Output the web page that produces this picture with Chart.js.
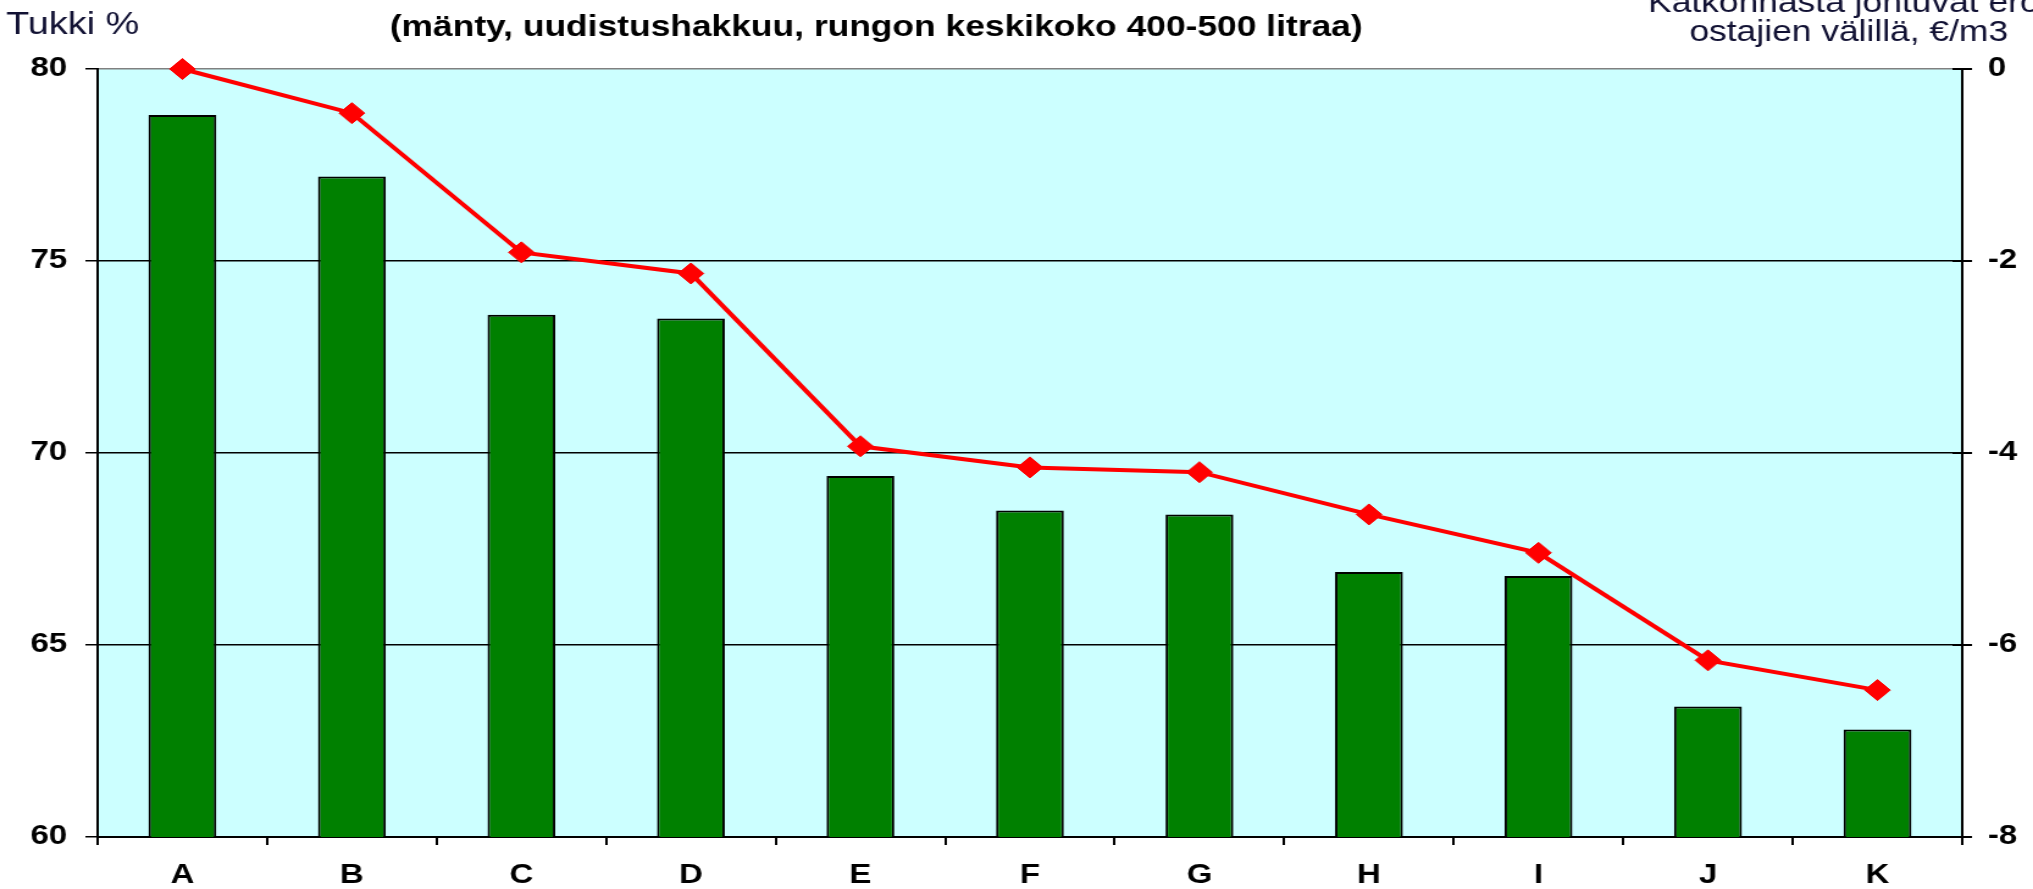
<!DOCTYPE html>
<html>
<head>
<meta charset="utf-8">
<script src="https://cdn.jsdelivr.net/npm/chart.js@4/dist/chart.umd.min.js"></script>
<style>
  body { margin: 0; background: #fff; overflow: hidden; }
  #wrap { width: 1666px; height: 889px; transform: scaleX(1.2203); transform-origin: 0 0; }
</style>
</head>
<body>
<div id="wrap"><canvas id="chart" width="1666" height="889"></canvas></div>
<script>
const categories = ['A', 'B', 'C', 'D', 'E', 'F', 'G', 'H', 'I', 'J', 'K'];
const tukkiPct = [78.8, 77.2, 73.6, 73.5, 69.4, 68.5, 68.4, 66.9, 66.8, 63.4, 62.8];
const erot = [0, -0.46, -1.91, -2.13, -3.93, -4.15, -4.2, -4.64, -5.04, -6.16, -6.47];

const titleText = '(mänty, uudistushakkuu, rungon keskikoko 400-500 litraa)';
const leftTitle = 'Tukki %';
const rightTitle = ['Katkonnasta johtuvat erot', 'ostajien välillä, €/m3'];

const tickFont = { family: 'Arial, "Liberation Sans", sans-serif', size: 27, weight: 'bold' };

const plotBackground = {
    id: 'plotBackground',
    beforeDraw(chart) {
        const { ctx, chartArea: a } = chart;
        ctx.save();
        ctx.fillStyle = '#ccffff';
        ctx.fillRect(a.left, a.top, a.right - a.left, a.bottom - a.top);
        ctx.restore();
    }
};

// right axis ticks cross the axis line, draw the inner half
const innerTicks = {
    id: 'innerTicks',
    afterDatasetsDraw(chart) {
        const { ctx } = chart;
        const s = chart.scales.y1;
        ctx.save();
        ctx.strokeStyle = '#000';
        ctx.lineWidth = 2;
        s.ticks.forEach(t => {
            const y = s.getPixelForValue(t.value);
            ctx.beginPath();
            ctx.moveTo(s.left - 8, y);
            ctx.lineTo(s.left, y);
            ctx.stroke();
        });
        ctx.restore();
    }
};

const titles = {
    id: 'titles',
    afterDraw(chart) {
        const { ctx } = chart;
        ctx.save();
        ctx.fillStyle = '#000';
        ctx.textBaseline = 'alphabetic';
        ctx.font = 'bold 29px Arial, "Liberation Sans", sans-serif';
        ctx.textAlign = 'center';
        ctx.fillText(titleText, 718, 36);
        ctx.font = '31px Arial, "Liberation Sans", sans-serif';
        ctx.textAlign = 'left';
        ctx.fillStyle = '#111133';
        ctx.fillText(leftTitle, 5, 34);
        ctx.font = '29px Arial, "Liberation Sans", sans-serif';
        ctx.textAlign = 'center';
        ctx.fillText(rightTitle[0], 1515, 12);
        ctx.fillText(rightTitle[1], 1515, 41);
        ctx.restore();
    }
};

new Chart(document.getElementById('chart'), {
    type: 'bar',
    data: {
        labels: categories,
        datasets: [{
            type: 'line',
            data: erot,
            yAxisID: 'y1',
            borderColor: '#ff0000',
            backgroundColor: '#ff0000',
            borderWidth: 4,
            pointStyle: 'rectRot',
            pointRadius: 10.5,
            pointBorderWidth: 1,
            tension: 0,
            clip: false,
            order: 0
        }, {
            type: 'bar',
            data: tukkiPct,
            yAxisID: 'y',
            backgroundColor: '#008000',
            borderColor: '#000',
            borderWidth: 2,
            borderSkipped: false,
            barPercentage: 0.4,
            categoryPercentage: 1,
            order: 1
        }]
    },
    options: {
        responsive: false,
        devicePixelRatio: 1,
        animation: false,
        layout: { padding: { top: 69, left: 0, right: 0, bottom: 0 } },
        plugins: { legend: { display: false }, tooltip: { enabled: false } },
        scales: {
            x: {
                afterFit: s => { s.height = 52; },
                grid: { drawOnChartArea: false, tickLength: 8, color: '#000', lineWidth: 2, offset: true },
                border: { color: '#000', width: 2 },
                ticks: { color: '#000', font: tickFont, padding: 14 }
            },
            y: {
                position: 'left',
                min: 60,
                max: 80,
                afterFit: s => { s.width = 80; },
                grid: {
                    color: c => c.tick && c.tick.value === 80 ? '#808080' : '#000',
                    tickColor: '#000',
                    lineWidth: 1.5,
                    tickLength: 10
                },
                border: { color: '#000', width: 2 },
                ticks: { stepSize: 5, color: '#000', font: tickFont, padding: 15 }
            },
            y1: {
                position: 'right',
                min: -8,
                max: 0,
                afterFit: s => { s.width = 58; },
                grid: { drawOnChartArea: false, tickLength: 8, color: '#000', lineWidth: 2 },
                border: { color: '#000', width: 2 },
                ticks: { stepSize: 2, color: '#000', font: tickFont, padding: 13 }
            }
        }
    },
    plugins: [plotBackground, innerTicks, titles]
});
</script>
</body>
</html>
